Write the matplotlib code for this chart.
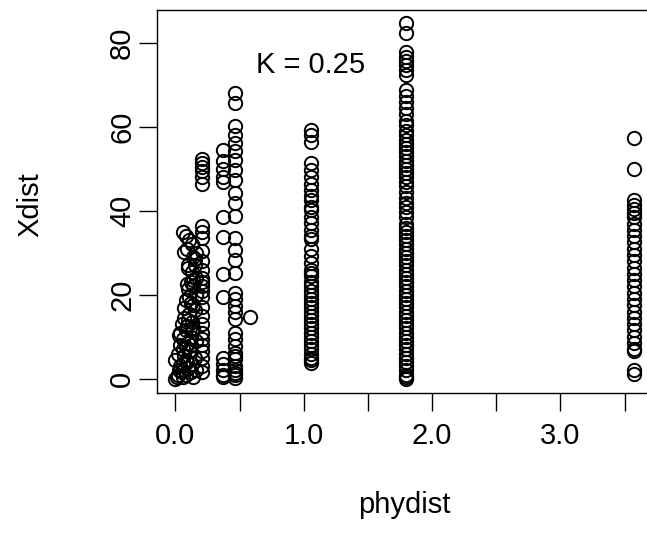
import matplotlib
matplotlib.use("Agg")
import matplotlib.pyplot as plt

plt.rcParams['font.family'] = ['Liberation Sans', 'DejaVu Sans']

# left cluster, phydist 0 - 0.17
x_near = [0.00, 0.01, 0.02, 0.00, 0.03, 0.05, 0.04, 0.06, 0.08, 0.10, 0.12, 0.14,
          0.02, 0.04, 0.07, 0.09, 0.11, 0.13, 0.15, 0.16, 0.03, 0.06, 0.08, 0.10,
          0.12, 0.14, 0.16, 0.05, 0.07, 0.09, 0.11, 0.13, 0.15, 0.04, 0.06, 0.08,
          0.12, 0.14, 0.16, 0.10, 0.12, 0.14, 0.16, 0.09, 0.11, 0.13, 0.15, 0.08,
          0.10, 0.14, 0.07, 0.09, 0.11, 0.16, 0.13, 0.15, 0.06, 0.08, 0.10, 0.14,
          0.07, 0.10, 0.13, 0.08, 0.06, 0.12]
y_near = [0.0, 0.5, 1.0, 4.5, 2.0, 1.5, 3.0, 0.5, 1.0, 2.5, 1.5, 0.5,
          6.0, 8.0, 5.5, 4.0, 6.5, 3.5, 5.0, 2.0, 10.5, 9.5, 11.5, 8.5,
          10.0, 12.0, 9.0, 13.0, 14.5, 12.5, 15.5, 13.5, 16.5, 11.0, 7.0, 7.5,
          18.0, 17.5, 20.0, 21.5, 23.0, 22.0, 24.0, 22.5, 19.5, 25.5, 27.0, 18.8,
          26.5, 29.0, 30.3, 31.0, 33.0, 30.0, 32.0, 28.5, 35.0, 34.0, 27.1, 23.5,
          16.9, 14.0, 11.5, 4.5, 3.5, 8.0]

# column at phydist ~0.21
x_a = 0.21
y_a = [52.5, 51.5, 50.5, 49.5, 48.0, 46.5, 36.5, 35.0, 33.5, 30.5, 28.0, 26.0,
       24.0, 23.0, 22.0, 21.0, 19.5, 17.0, 15.0, 13.0, 11.0, 9.5, 8.0, 6.5,
       5.0, 3.0, 1.5]

# column at phydist ~0.37
x_b = 0.37
y_b = [54.5, 52.0, 50.0, 48.0, 47.0, 38.6, 33.9, 25.0, 19.5, 5.0, 3.5, 2.0, 1.0, 0.3]

# column at phydist ~0.47
x_c = 0.466
y_c = [68.0, 65.7, 60.2, 58.2, 56.2, 54.2, 52.2, 49.8, 47.4, 44.3, 41.9, 38.8,
       33.6, 30.8, 28.4, 25.3, 20.5, 18.9, 17.3, 15.8, 14.2, 11.0, 9.4, 7.8,
       6.2, 4.6, 3.0, 1.4, 0.2, 5.5, 2.2, 0.8]

# single point
x_d, y_d = 0.58, 14.8

# column at phydist ~1.06
x_e = 1.057
y_e = [59.2, 58.0, 56.5, 51.4, 49.8, 48.2, 46.5, 45.1, 43.5, 42.7, 41.0, 40.3,
       38.5, 37.1, 35.5, 34.0, 33.2, 31.0, 29.2, 27.6, 26.0, 25.3, 24.5, 23.0,
       22.1, 21.0, 20.0, 19.0, 18.0, 17.0, 16.0, 15.0, 14.0, 13.0, 12.0, 11.0,
       10.0, 9.0, 8.0, 7.0, 6.0, 5.0, 4.5, 3.8]

# column at phydist ~1.80
x_f = 1.80
y_f = [84.7, 82.5, 77.8, 76.8, 75.8, 74.8, 73.5, 72.4, 68.8, 67.5, 66.0, 64.5,
       63.0, 61.5, 60.5, 59.0, 58.0, 57.0, 56.0, 55.0, 54.0, 53.0, 52.0, 51.0,
       50.0, 49.0, 48.0, 47.0, 46.0, 44.5, 43.0, 42.0, 41.0, 39.8, 38.5, 37.0,
       36.0, 35.0, 34.0, 33.0, 32.0, 31.0, 30.0, 29.0, 28.0, 27.0, 26.0, 25.0,
       24.0, 23.0, 22.0, 21.0, 20.0, 19.0, 18.0, 17.0, 16.0, 15.0, 14.0, 13.0,
       12.0, 11.0, 10.0, 9.0, 8.0, 7.0, 6.0, 5.0, 4.0, 3.0, 2.0, 1.0, 0.5, 0.0]

# column at phydist ~3.57
x_g = 3.57
y_g = [57.5, 50.0, 42.6, 41.5, 40.5, 39.5, 38.5, 37.0, 35.5, 34.0, 32.5, 31.0,
       29.5, 28.0, 26.5, 25.0, 23.5, 22.0, 20.5, 19.0, 17.5, 16.0, 14.5, 13.0,
       11.5, 10.0, 8.5, 7.0, 6.5, 2.1, 1.2]

x_ticks = [0.0, 0.5, 1.0, 1.5, 2.0, 2.5, 3.0, 3.5]
x_labels = ["0.0", "", "1.0", "", "2.0", "", "3.0", ""]
y_ticks = [0, 20, 40, 60, 80]

xs = x_near + [x_a] * len(y_a) + [x_b] * len(y_b) + [x_c] * len(y_c) + [x_d] \
    + [x_e] * len(y_e) + [x_f] * len(y_f) + [x_g] * len(y_g)
ys = y_near + y_a + y_b + y_c + [y_d] + y_e + y_f + y_g

fig = plt.figure(figsize=(6.47, 5.49), dpi=100)
W, H = 647, 549
ax = fig.add_axes([157 / W, (H - 393) / H, (652 - 157) / W, (393 - 10) / H])

ax.plot(xs, ys, 'o', mfc='none', mec='black', ms=9.6, mew=1.4, clip_on=False)

ax.set_xlim(-0.143, 3.713)
ax.set_ylim(-3.4, 87.9)
ax.set_xticks(x_ticks)
ax.set_xticklabels(x_labels)
ax.set_yticks(y_ticks)
ax.set_yticklabels([str(v) for v in y_ticks], rotation=90, va='center')
ax.tick_params(axis='both', length=13, width=1.0, labelsize=21)
ax.tick_params(axis='x', pad=8)
ax.tick_params(axis='y', pad=2)
for s in ax.spines.values():
    s.set_linewidth(1.0)

ax.text(1.05, 74.8, "K = 0.25", fontsize=21, ha='center', va='center')

fig.text(404.5 / W, (H - 505) / H, "phydist", fontsize=21, ha='center', va='center')
fig.text(30 / W, (H - 205) / H, "Xdist", fontsize=21, ha='center', va='center',
         rotation=90)

fig.savefig("out.png", dpi=100)
